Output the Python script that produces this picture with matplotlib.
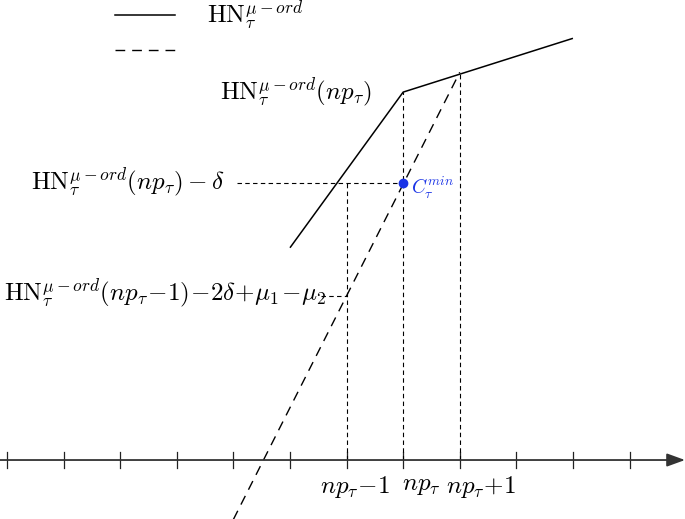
import matplotlib
matplotlib.use("Agg")
import matplotlib.pyplot as plt
from matplotlib.lines import Line2D

plt.rcParams['mathtext.fontset'] = 'cm'
plt.rcParams['font.family'] = 'serif'
plt.rcParams['font.serif'] = ['DejaVu Serif']

# piecewise-linear curve HN (solid) and the dashed chord
solid_x = [5, 7, 10]
solid_y = [3.75, 6.5, 7.45]
dashed_x = [4, 8]
dashed_y = [-1.05, 6.85]

# axis ticks
tick_pos = list(range(0, 12))
label_ticks = [6, 7, 8]
label_text = [r'$np_\tau\!-\!1$', r'$np_\tau$', r'$np_\tau\!+\!1$']
label_shift = [0.16, 0.32, 0.37]   # labels sit a bit right of their ticks

# special points
c_min = (7, 4.89)        # C_tau^min on the dashed line
low_y = 2.9              # dashed line at np_tau - 1
kink = (7, 6.5)
top_right = (8, 6.85)

HN = r'\mathrm{HN}_{\tau}^{\mu-ord}'
FS = 18

fig = plt.figure(figsize=(6.85, 5.19), dpi=100)
ax = fig.add_axes([0, 0, 1, 1])
ax.set_xlim(-0.124, 11.98)
ax.set_ylim(-1.042, 8.127)
ax.axis('off')

# x axis with arrow
ax.annotate('', xy=(11.98, 0), xytext=(-0.124, 0),
            arrowprops=dict(arrowstyle='-|>,head_length=1.1,head_width=0.4',
                            color='#333333', lw=1.3, shrinkA=0, shrinkB=0))
for t in tick_pos:
    ax.plot([t, t], [-0.14, 0.14], color='#222222', lw=0.9)
for t, lab, sh in zip(label_ticks, label_text, label_shift):
    ax.text(t + sh, -0.25, lab, ha='center', va='top', fontsize=FS)

# main lines
ax.plot(solid_x, solid_y, color='black', lw=1.1, solid_capstyle='butt')
ax.plot(dashed_x, dashed_y, color='black', lw=1.0, dashes=(7, 5))

# helper dashed lines
hd = dict(color='black', lw=0.8, dashes=(4, 3))
ax.plot([4.07, 7], [c_min[1], c_min[1]], **hd)
ax.plot([6, 6], [0, c_min[1]], **hd)
ax.plot([7, 7], [0, kink[1]], **hd)
ax.plot([8, 8], [0, top_right[1]], **hd)
ax.plot([5.55, 6], [low_y, low_y], **hd)

ax.plot(*c_min, 'o', color='#1a33e6', ms=6, zorder=5)
ax.text(7.14, c_min[1] - 0.08, r'$C_{\tau}^{min}$', color='#1a33e6',
        fontsize=14, ha='left', va='center')

ax.text(6.45, kink[1], r'$' + HN + r'(np_\tau)$', ha='right', va='center', fontsize=FS)
ax.text(3.85, c_min[1] + 0.02, r'$' + HN + r'(np_\tau)-\delta$', ha='right', va='center', fontsize=FS)
ax.text(-0.05, low_y + 0.05,
        r'$' + HN + r'(np_\tau\!-\!1)\!-\!2\delta\!+\!\mu_1\!-\!\mu_2$',
        ha='left', va='center', fontsize=FS)

# legend
handles = [Line2D([], [], color='black', lw=1.1),
           Line2D([], [], color='black', lw=1.0, dashes=(7, 5))]
ax.legend(handles, [r'$' + HN + r'$', ''], loc='upper left',
          bbox_to_anchor=(0.135, 1.045), frameon=False, fontsize=FS,
          handlelength=2.4, labelspacing=0.3, handletextpad=1.3)

fig.savefig('out.png', dpi=100)
